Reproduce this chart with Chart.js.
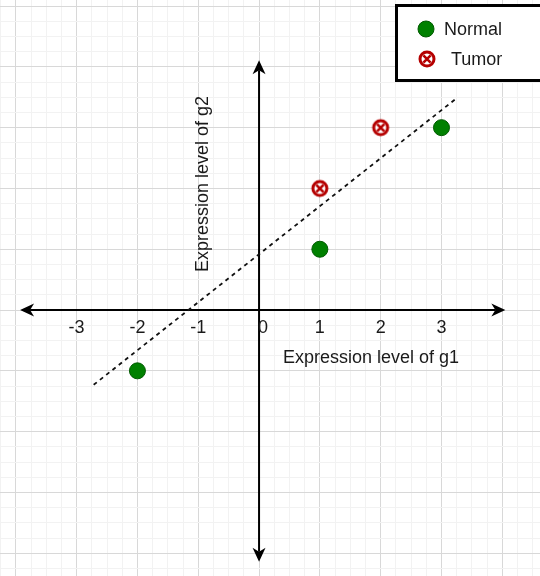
<!DOCTYPE html>
<html lang="en">
<head>
<meta charset="UTF-8">
<title>Expression levels</title>
<script src="https://cdn.jsdelivr.net/npm/chart.js"></script>
<style>
  html, body { margin: 0; padding: 0; background: #fff; }
  #wrap { width: 540px; height: 576px; }
</style>
</head>
<body>
<div id="wrap"><canvas id="myChart" width="540" height="576"></canvas></div>
<script>
// data
const normalX = [-2, 1, 3];
const normalY = [-1, 1, 3];
const tumorX = [1, 2];
const tumorY = [2, 3];
const lineX = [-2.72, 3.23];
const lineY = [-1.23, 3.47];
const tickValues = [-3, -2, -1, 0, 1, 2, 3];
const tickLabels = ['-3', '-2', '-1', '0', '1', '2', '3'];
const axisXEnds = [-3.93, 4.05];
const axisYEnds = [-4.14, 4.11];
const seriesNames = ['Normal', 'Tumor'];
const xTitle = 'Expression level of g1';
const yTitle = 'Expression level of g2';

const FONT = '18px "Liberation Sans", Arial, sans-serif';
const RED = '#b50000';

// tumor marker: circle with a cross
function tumorIcon() {
    let c = document.createElement('canvas');
    c.width = 22; c.height = 22;
    let g = c.getContext('2d');
    g.beginPath();
    g.arc(11, 11, 7, 0, Math.PI * 2);
    g.fillStyle = '#fff';
    g.fill();
    g.lineWidth = 3;
    g.strokeStyle = RED;
    g.stroke();
    g.beginPath();
    let d = 3.6;
    g.moveTo(11 - d, 11 - d); g.lineTo(11 + d, 11 + d);
    g.moveTo(11 + d, 11 - d); g.lineTo(11 - d, 11 + d);
    g.lineWidth = 2.6;
    g.stroke();
    return c;
}
const tumorImg = tumorIcon();

function pts(xs, ys) { return xs.map((x, i) => ({ x: x, y: ys[i] })); }

function arrowHead(ctx, x, y, ang) {
    // draw.io style classic arrow, tip at (x, y)
    ctx.save();
    ctx.translate(x, y);
    ctx.rotate(ang);
    ctx.beginPath();
    ctx.moveTo(0, 0);
    ctx.lineTo(-14, -6.5);
    ctx.lineTo(-10, 0);
    ctx.lineTo(-14, 6.5);
    ctx.closePath();
    ctx.fillStyle = '#000';
    ctx.fill();
    ctx.restore();
}

const axesPlugin = {
    id: 'axesPlugin',
    beforeDatasetsDraw(chart) {
        const ctx = chart.ctx;
        const xs = chart.scales.x, ys = chart.scales.y;
        const ox = xs.getPixelForValue(0), oy = ys.getPixelForValue(0);
        const xl = xs.getPixelForValue(axisXEnds[0]), xr = xs.getPixelForValue(axisXEnds[1]);
        const yt = ys.getPixelForValue(axisYEnds[1]), yb = ys.getPixelForValue(axisYEnds[0]);
        ctx.save();
        ctx.strokeStyle = '#000';
        ctx.lineWidth = 2;
        ctx.beginPath();
        ctx.moveTo(xl + 10, oy); ctx.lineTo(xr - 10, oy);
        ctx.moveTo(ox, yt + 10); ctx.lineTo(ox, yb - 10);
        ctx.stroke();
        arrowHead(ctx, xl, oy, Math.PI);
        arrowHead(ctx, xr, oy, 0);
        arrowHead(ctx, ox, yt, -Math.PI / 2);
        arrowHead(ctx, ox, yb, Math.PI / 2);

        ctx.fillStyle = '#1a1a1a';
        ctx.font = FONT;
        ctx.textAlign = 'center';
        ctx.textBaseline = 'middle';
        tickValues.forEach((v, i) => {
            let px = xs.getPixelForValue(v) + (v === 0 ? 4 : 0);
            ctx.fillText(tickLabels[i], px, oy + 18);
        });
        ctx.fillText(xTitle, ox + 112, oy + 48);
        ctx.translate(ox - 56, oy - 126);
        ctx.rotate(-Math.PI / 2);
        ctx.fillText(yTitle, 0, 0);
        ctx.restore();
    },
    afterDraw(chart) {
        const ctx = chart.ctx;
        ctx.save();
        ctx.fillStyle = '#fff';
        ctx.fillRect(396, 5, 150, 75);
        ctx.strokeStyle = '#000';
        ctx.lineWidth = 3;
        ctx.strokeRect(396.5, 5.5, 150, 75);
        // normal marker
        ctx.beginPath();
        ctx.arc(426, 29, 8, 0, Math.PI * 2);
        ctx.fillStyle = '#008000';
        ctx.fill();
        ctx.lineWidth = 1;
        ctx.strokeStyle = '#005a00';
        ctx.stroke();
        ctx.drawImage(tumorImg, 427 - 11, 59 - 11);
        ctx.fillStyle = '#1a1a1a';
        ctx.font = FONT;
        ctx.textAlign = 'left';
        ctx.textBaseline = 'middle';
        ctx.fillText(seriesNames[0], 444, 30);
        ctx.fillText(seriesNames[1], 451, 60);
        ctx.restore();
    }
};

function gridColor(c) {
    let v = c.tick ? c.tick.value : 0;
    return Math.abs(v - Math.round(v)) < 1e-6 ? '#d8d8d8' : '#f2f2f2';
}

let ctx = document.getElementById('myChart').getContext('2d');
let myChart = new Chart(ctx, {
    type: 'scatter',
    data: {
        datasets: [
            {
                label: 'fit',
                data: pts(lineX, lineY),
                showLine: true,
                borderColor: '#111',
                borderWidth: 1.8,
                borderDash: [4, 4],
                pointRadius: 0,
                order: 3
            },
            {
                label: seriesNames[0],
                data: pts(normalX, normalY),
                backgroundColor: '#008000',
                borderColor: '#005a00',
                borderWidth: 1,
                pointRadius: 8,
                order: 1
            },
            {
                label: seriesNames[1],
                data: pts(tumorX, tumorY),
                pointStyle: tumorImg,
                pointRadius: 11,
                order: 1
            }
        ]
    },
    options: {
        responsive: false,
        animation: false,
        layout: { padding: 0, autoPadding: false },
        plugins: { legend: { display: false }, tooltip: { enabled: false } },
        scales: {
            x: {
                type: 'linear',
                min: -4.26, max: 4.62,
                ticks: { display: false, stepSize: 0.25, includeBounds: false },
                grid: { color: gridColor, drawTicks: false, lineWidth: 1 },
                border: { display: false }
            },
            y: {
                type: 'linear',
                min: -4.375, max: 5.1,
                ticks: { display: false, stepSize: 0.25, includeBounds: false },
                grid: { color: gridColor, drawTicks: false, lineWidth: 1 },
                border: { display: false }
            }
        }
    },
    plugins: [axesPlugin]
});
</script>
</body>
</html>
